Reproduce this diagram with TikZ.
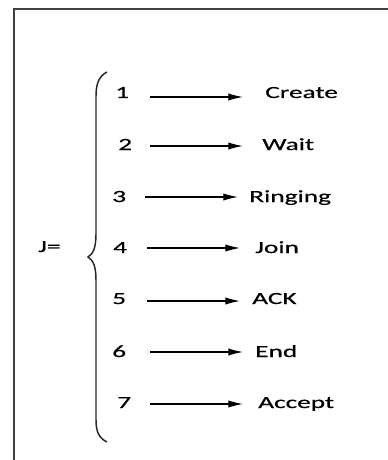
\documentclass[tikz,border=0pt]{standalone}
\usepackage{fontspec}
\usepackage{graphicx}
\setmainfont{Carlito}[FakeBold=0.4]
\usetikzlibrary{arrows.meta}
% wide lettering used throughout the chart
\newcommand{\widetext}[1]{\scalebox{1.6}[1]{#1}}
\tikzset{
  lbl/.style={anchor=base west, inner sep=0pt, font=\fontsize{12.8}{15}\selectfont},
  arr/.style={line width=0.9pt, -{Latex[length=11pt,width=5.5pt]}},
  frameline/.style={line width=1.3pt, draw=black!75},
  bracel/.style={line width=1.1pt, draw=black!85}
}
\begin{document}
\begin{tikzpicture}[x=0.75pt, y=-0.75pt]
  \useasboundingbox (0,0) rectangle (387,460);
  % open frame: only the top and left edges fall inside the page
  \draw[frameline] (14,470) -- (14,9) -- (400,9);

  % J= and its curly brace
  \node[lbl] (J) at (38,252) {\widetext{J=}};
  \draw[bracel] (107,72) .. controls (99,76) and (96,84) .. (96,96)
        -- (96,234) .. controls (96,248) and (93,254) .. (88,257)
        .. controls (93,260) and (96,266) .. (96,280)
        -- (96,420) .. controls (96,432) and (99,438) .. (107,442);

  % numbered entries with their meanings
  \foreach \i/\nx/\base/\ay/\ax/\bx/\lx/\txt in {
      1/115/98/97/150/243/265/Create,
      2/118/150/146/150/243/262/Wait,
      3/112/202/197/145/238/249/Ringing,
      4/113/253/248/147/240/255/Join,
      5/112/304/301/147/240/252/ACK,
      6/112/357/352/150/243/255/End,
      7/117/408/404/150/243/258/Accept}{
    \node[lbl] (n\i) at (\nx,\base) {\widetext{\i}};
    \node[lbl] (l\i) at (\lx,\base) {\widetext{\txt}};
    \coordinate (s\i) at (\ax,\ay);
    \coordinate (e\i) at (\bx,\ay);
    \draw[arr] (s\i) -- (e\i);
  }
\end{tikzpicture}
\end{document}
